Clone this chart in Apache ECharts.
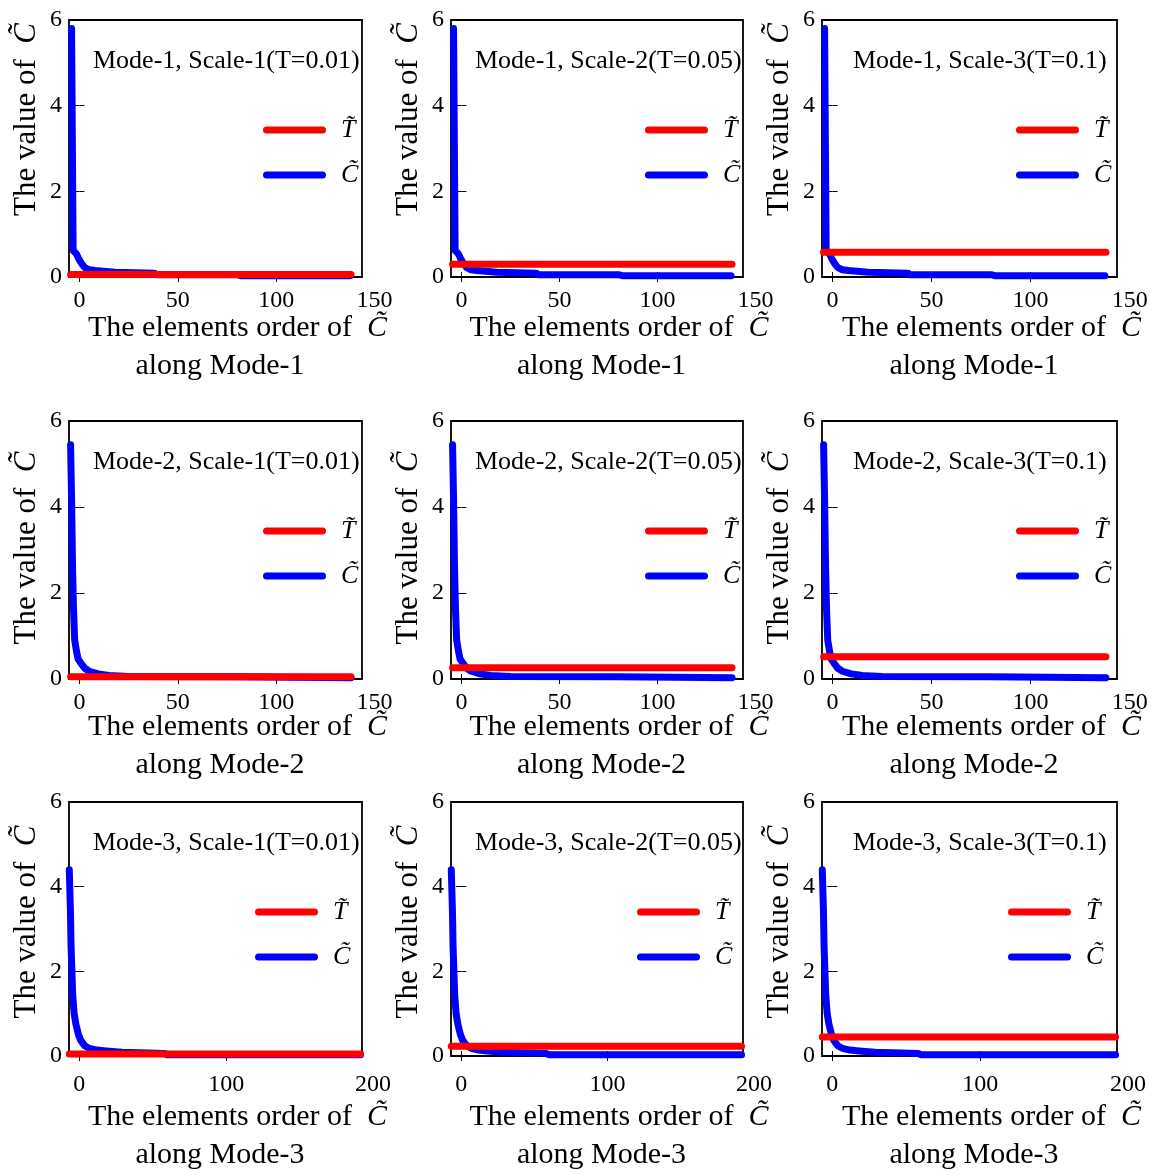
<!DOCTYPE html>
<html>
<head>
<meta charset="utf-8">
<script src="https://cdn.jsdelivr.net/npm/echarts@6/dist/echarts.min.js"></script>
<style>
html, body { margin: 0; padding: 0; background: #fff; }
#main { width: 1151px; height: 1175px; }
</style>
</head>
<body>
<div id="main"></div>
<script>
// C~ values along each mode: [element order, value]
var mode1C = [[-4, 5.8], [-3.2, 0.62], [-1.5, 0.54], [-0.5, 0.44], [1, 0.32], [2.7, 0.22], [5, 0.17], [8, 0.15], [18, 0.11], [38, 0.09], [39.5, 0.05], [80.5, 0.05], [82, 0.03], [137.5, 0.03]]
var mode2C = [[-4.5, 5.45], [-4, 4.2], [-3.5, 2.6], [-3, 1.6], [-2.4, 0.9], [-1.5, 0.65], [-0.7, 0.47], [1, 0.35], [2.7, 0.25], [5, 0.18], [9.5, 0.12], [15, 0.08], [25, 0.06], [79, 0.05], [80, 0.03], [138, 0.03]]
var mode3C = [[-6.8, 4.4], [-6, 3.4], [-5.6, 2.6], [-4.5, 1.45], [-3.5, 1.0], [-2.3, 0.75], [-0.5, 0.5], [1, 0.37], [3.5, 0.25], [6.8, 0.18], [12, 0.14], [18, 0.12], [29, 0.09], [30, 0.07], [58, 0.06], [60, 0.03], [191.5, 0.03]]
// T~ threshold: rows = mode, cols = scale
var thresholdT = [[0.06, 0.30, 0.58], [0.05, 0.26, 0.52], [0.05, 0.23, 0.45]]
var scaleT = ['0.01', '0.05', '0.1']
var tStart = [-4.5, -4.5, -6.8]
var tEnd = [138, 138, 191.5]
var xTicks = [[0, 50, 100, 150], [0, 50, 100, 150], [0, 100, 200]]
var yTicks = [0, 2, 4, 6]

var modeC = [mode1C, mode2C, mode3C]

// layout
var boxLeft = [69, 451, 822]
var boxWidth = [293, 292, 295]
var boxTop = [20, 421, 802]
var boxHeight = [257, 258, 257]
var xMin = [-5.3, -5.3, -7]
var xMax = [143.6, 143.6, 192.5]
var nameGapX = [32, 29, 42]
var labelMarginX = [12, 12, 14]
var yNameShift = [29, 2, 7]
var legendDx = [194, 194, 186]
var titleDx = [24, 24, 31]

var FONT = '"Liberation Serif", "DejaVu Serif", serif'
var T_NAME = 'T\u0303'
var C_NAME = 'C\u0303'

var chart = echarts.init(document.getElementById('main'))

var grid = [], xAxis = [], yAxis = [], series = [], legend = [], title = []

for (var r = 0; r < 3; r++) {
  for (var c = 0; c < 3; c++) {
    var g = grid.length
    var xa = xAxis.length
    var ya = yAxis.length
    var last = xTicks[r][xTicks[r].length - 1]
    // box grid
    grid.push({
      left: boxLeft[c], top: boxTop[r], width: boxWidth[c], height: boxHeight[r],
      show: true, borderColor: '#000', borderWidth: 1.8, backgroundColor: '#fff'
    })
    // label grid (tick labels run past the box)
    grid.push({
      left: boxLeft[c], top: boxTop[r], height: boxHeight[r],
      width: boxWidth[c] * (last - xMin[r]) / (xMax[r] - xMin[r]),
      show: false
    })
    // bottom axis of box
    xAxis.push({
      type: 'value', gridIndex: g, min: xMin[r], max: xMax[r], position: 'bottom',
      axisLine: { show: false },
      axisTick: { inside: true, length: 5, lineStyle: { color: '#000' }, customValues: xTicks[r] },
      axisLabel: { show: false },
      splitLine: { show: false },
      name: 'The elements order of  {i|' + C_NAME + '}\nalong Mode-' + (r + 1) + '{h|  ' + C_NAME + '}',
      nameLocation: 'middle',
      nameGap: nameGapX[r],
      nameTextStyle: {
        fontFamily: FONT, fontSize: 30, lineHeight: 38, color: '#000',
        padding: [0, 0, 0, 44],
        rich: {
          i: { fontFamily: FONT, fontSize: 30, lineHeight: 38, fontStyle: 'italic', color: '#000' },
          h: { fontFamily: FONT, fontSize: 30, lineHeight: 38, fontStyle: 'italic', color: 'rgba(0,0,0,0)' }
        }
      }
    })
    // top mirror ticks
    xAxis.push({
      type: 'value', gridIndex: g, min: xMin[r], max: xMax[r], position: 'top',
      axisLine: { show: false },
      axisTick: { inside: true, length: 5, lineStyle: { color: '#000' }, customValues: xTicks[r] },
      axisLabel: { show: false },
      splitLine: { show: false }
    })
    // tick label axis
    xAxis.push({
      type: 'value', gridIndex: g + 1, min: xMin[r], max: last, position: 'bottom',
      axisLine: { show: false },
      axisTick: { show: false },
      axisLabel: {
        customValues: xTicks[r], margin: labelMarginX[r],
        fontFamily: FONT, fontSize: 24, color: '#000'
      },
      splitLine: { show: false }
    })
    yAxis.push({
      type: 'value', gridIndex: g, min: 0, max: 6, interval: 2, position: 'left',
      axisLine: { show: false },
      axisTick: { inside: true, length: 5, lineStyle: { color: '#000' } },
      axisLabel: { margin: 7, fontFamily: FONT, fontSize: 24, color: '#000', customValues: yTicks },
      splitLine: { show: false },
      name: 'The value of  {i|' + C_NAME + '}',
      nameLocation: 'middle',
      nameGap: 27,
      nameTextStyle: {
        fontFamily: FONT, fontSize: 31, color: '#000',
        padding: [0, 0, 0, yNameShift[r] * 2],
        rich: { i: { fontFamily: FONT, fontSize: 31, fontStyle: 'italic', color: '#000' } }
      }
    })
    yAxis.push({
      type: 'value', gridIndex: g, min: 0, max: 6, interval: 2, position: 'right',
      axisLine: { show: false },
      axisTick: { inside: true, length: 5, lineStyle: { color: '#000' } },
      axisLabel: { show: false },
      splitLine: { show: false }
    })
    yAxis.push({
      type: 'value', gridIndex: g + 1, min: 0, max: 6, show: false
    })

    series.push({
      name: C_NAME, type: 'line', xAxisIndex: xa, yAxisIndex: ya,
      data: modeC[r], showSymbol: false, symbol: 'none', animation: false,
      lineStyle: { color: '#0000ff', width: 7, cap: 'round', join: 'round' },
      itemStyle: { color: '#0000ff' }, z: 2
    })
    series.push({
      name: T_NAME, type: 'line', xAxisIndex: xa, yAxisIndex: ya,
      data: [[tStart[r], thresholdT[r][c]], [tEnd[r], thresholdT[r][c]]],
      showSymbol: false, symbol: 'none', animation: false,
      lineStyle: { color: '#ff0000', width: 7, cap: 'round', join: 'round' },
      itemStyle: { color: '#ff0000' }, z: 3
    })

    legend.push({
      data: [T_NAME, C_NAME],
      orient: 'vertical',
      left: boxLeft[c] + legendDx[r],
      top: boxTop[r] + 95,
      padding: 0,
      itemGap: 15,
      itemWidth: 63,
      itemHeight: 7,
      icon: 'path://M3.5,0 H59.5 A3.5,3.5 0 0 1 59.5,7 H3.5 A3.5,3.5 0 0 1 3.5,0 Z',
      selectedMode: false,
      textStyle: { fontFamily: FONT, fontSize: 26, lineHeight: 30, fontStyle: 'italic', color: '#000', padding: [0, 0, 0, 10] }
    })

    title.push({
      text: 'Mode-' + (r + 1) + ', Scale-' + (c + 1) + '(T=' + scaleT[c] + ')',
      left: boxLeft[c] + titleDx[c],
      top: boxTop[r] + 28,
      padding: 0,
      textStyle: { fontFamily: FONT, fontSize: 26, fontWeight: 'normal', color: '#000' }
    })
  }
}

chart.setOption({
  backgroundColor: '#fff',
  animation: false,
  title: title,
  legend: legend,
  grid: grid,
  xAxis: xAxis,
  yAxis: yAxis,
  series: series
})
</script>
</body>
</html>
